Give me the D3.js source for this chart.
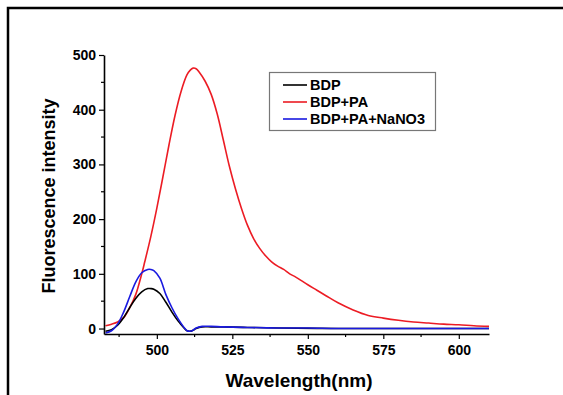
<!DOCTYPE html>
<html><head><meta charset="utf-8">
<script src="https://cdn.jsdelivr.net/npm/d3@7"></script>
<style>body{margin:0;background:#fff}svg{display:block}</style>
</head><body>
<script>
const seriesNames = ["BDP", "BDP+PA", "BDP+PA+NaNO3"];
const seriesColors = ["#000000", "#ec1c24", "#1a1ae0"];
const xTicks = [500, 525, 550, 575, 600];
const yTicks = [0, 100, 200, 300, 400, 500];

const bdpX = [483,485,487,489,491,493,495,497,498,499,501,503,505,507,509,510,511,512,513,515,518,522,530,540,560,580,610];
const bdpY = [-5,-2,6,20,38,55,67,73,73,72,64,48,30,14,1,-4,-5,-3,0,3,3,3,2,1,0,0,0];

const paX = [483,485,487,489,491,493,495,496,498,500,502,504,506,508,510,511,512,513,514,516,518,520,522,524,526,528,530,532,534,536,538,540,542,544,546,548,550,553,556,560,565,570,575,580,585,590,595,600,605,610];
const paY = [5,8,12,20,38,62,100,122,168,220,277,335,389,433,464,472,476,475,469,452,428,392,345,297,256,220,189,165,147,133,122,114,108,100,94,87,80,70,60,47,34,24,19,15,12,10,8,7,5,4];

const naX = [483,485,487,489,491,493,495,497,498,499,501,503,505,507,509,510,511,512,513,515,518,522,530,540,550,560,580,610];
const naY = [-8,-4,8,30,58,85,102,108,108,106,92,62,38,18,2,-4,-5,-3,1,4,4,3,2,1,1,0,0,0];

const W = 563, H = 395;
const svg = d3.select("body").append("svg").attr("width", W).attr("height", H);

// outer frame (top and left edges)
svg.append("path").attr("d", `M8,${H} L8,8 L${W},8`).attr("fill","none").attr("stroke","#000").attr("stroke-width",2.5);

const x = d3.scaleLinear().domain([482.5, 610]).range([104, 489]);
const y = d3.scaleLinear().domain([-10, 500]).range([334, 55]);

const font = "'Liberation Sans', Arial, sans-serif";

// curves
const line = d3.line().x(d => x(d[0])).y(d => y(d[1])).curve(d3.curveCatmullRom.alpha(0.5));
const data = [
  d3.zip(bdpX, bdpY),
  d3.zip(paX, paY),
  d3.zip(naX, naY)
];
const plot = svg.append("g");
[1,0,2].forEach(i => {
  plot.append("path").attr("d", line(data[i])).attr("fill","none")
    .attr("stroke", seriesColors[i]).attr("stroke-width", 1.6);
});

// axes
const xAxis = svg.append("g").attr("transform", `translate(0,${y(-10)})`)
  .call(d3.axisBottom(x).tickValues(xTicks).tickSize(5).tickPadding(6).tickSizeOuter(0));
xAxis.append("g").selectAll("line").data(d3.range(487.5, 610, 25)).join("line")
  .attr("x1", d=>x(d)).attr("x2", d=>x(d)).attr("y1",0).attr("y2",3).attr("stroke","#000").attr("stroke-width",1.2);
const yAxis = svg.append("g").attr("transform", `translate(${x(482.5)},0)`)
  .call(d3.axisLeft(y).tickValues(yTicks).tickSize(5).tickPadding(3).tickSizeOuter(0));
yAxis.append("g").selectAll("line").data([50,150,250,350,450]).join("line")
  .attr("y1", d=>y(d)).attr("y2", d=>y(d)).attr("x1",0).attr("x2",-3).attr("stroke","#000").attr("stroke-width",1.2);
[xAxis, yAxis].forEach(a => {
  a.select(".domain").attr("stroke-width", 1.6);
  a.selectAll(".tick line").attr("stroke-width", 1.2);
  a.selectAll("text").attr("font-family", font).attr("font-weight","bold").attr("font-size", 14).attr("fill","#000");
});

svg.append("text").attr("x", 299).attr("y", 387).attr("text-anchor","middle")
  .attr("font-family", font).attr("font-weight","bold").attr("font-size", 19).text("Wavelength(nm)");
svg.append("text").attr("transform","translate(55,196) rotate(-90)").attr("text-anchor","middle")
  .attr("font-family", font).attr("font-weight","bold").attr("font-size", 18).text("Fluorescence intensity");

// legend
const lg = svg.append("g");
lg.append("rect").attr("x", 269.5).attr("y", 72.5).attr("width", 166).attr("height", 58)
  .attr("fill","#fff").attr("stroke","#777").attr("stroke-width",1.2);
const rows = [85, 102, 119];
seriesNames.forEach((n, i) => {
  lg.append("line").attr("x1", 283).attr("x2", 307).attr("y1", rows[i]).attr("y2", rows[i])
    .attr("stroke", seriesColors[i]).attr("stroke-width", 1.6);
  lg.append("text").attr("x", 310).attr("y", rows[i] + 5).attr("font-family", font)
    .attr("font-weight","bold").attr("font-size", 14.5).text(n);
});
</script>
</body></html>
